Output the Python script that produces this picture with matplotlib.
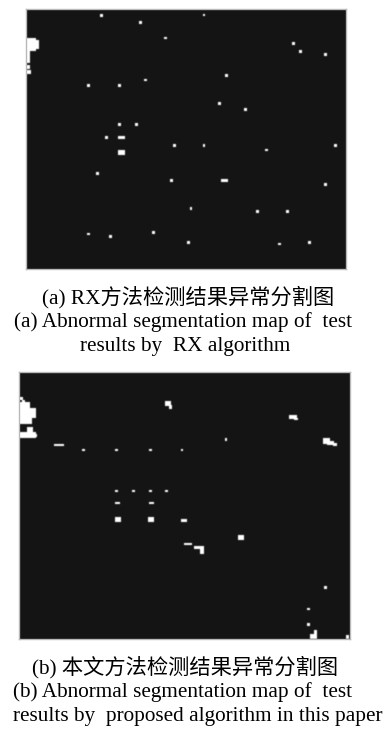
import numpy as np
import matplotlib
matplotlib.use("Agg")
import matplotlib.pyplot as plt

# Detection maps, in map pixels: each anomaly region is a list of
# (x0, y0, width, height) blocks that are flagged as abnormal.
rx_size = (260, 320)  # rows, cols
rx_regions = [
    [(0, 29, 10, 13), (10, 31, 3, 9), (0, 42, 4, 12), (0, 56, 4, 4), (0, 61, 5, 4)],
    [(74, 5, 3, 3)], [(113, 12, 3, 3)], [(177, 5, 2, 2)], [(138, 28, 3, 2)],
    [(266, 33, 3, 3)], [(273, 41, 3, 3)], [(298, 44, 3, 3)], [(199, 65, 3, 3)],
    [(118, 70, 3, 2)], [(61, 75, 3, 3)], [(92, 75, 3, 3)], [(192, 93, 3, 3)],
    [(218, 99, 3, 3)], [(92, 114, 3, 3)], [(109, 114, 3, 3)], [(79, 127, 3, 3)],
    [(92, 127, 7, 3)], [(92, 141, 7, 5)], [(147, 135, 3, 3)], [(177, 135, 2, 3)],
    [(239, 140, 3, 2)], [(308, 135, 3, 3)], [(70, 163, 3, 3)], [(144, 170, 3, 3)],
    [(195, 170, 7, 3)], [(298, 174, 3, 3)], [(164, 198, 2, 3)], [(230, 201, 3, 3)],
    [(260, 201, 3, 3)], [(61, 224, 3, 2)], [(83, 226, 3, 3)], [(126, 222, 3, 3)],
    [(161, 232, 3, 3)], [(252, 234, 3, 2)], [(282, 232, 3, 3)],
]

ours_size = (267, 331)
ours_regions = [
    [(0, 25, 4, 3), (0, 30, 11, 6), (0, 36, 17, 10), (0, 46, 13, 6), (3, 28, 3, 2)],
    [(8, 55, 6, 5), (0, 60, 17, 6), (14, 62, 4, 3)],
    [(146, 29, 6, 5), (150, 33, 3, 4)],
    [(270, 43, 8, 4), (275, 46, 4, 2)],
    [(206, 66, 2, 3)],
    [(304, 66, 7, 6), (308, 69, 7, 4), (314, 71, 4, 3)],
    [(35, 72, 10, 2)], [(63, 77, 3, 2)], [(96, 77, 3, 2)], [(130, 77, 3, 2)],
    [(162, 77, 2, 2)], [(96, 118, 3, 2)], [(113, 118, 3, 2)], [(130, 118, 3, 2)],
    [(146, 118, 3, 2)], [(96, 130, 5, 2)], [(130, 130, 5, 2)], [(96, 145, 6, 5)],
    [(129, 145, 6, 5)], [(162, 147, 6, 3)], [(219, 163, 6, 5)], [(165, 171, 8, 2)],
    [(175, 174, 9, 3), (181, 174, 4, 8)],
    [(305, 214, 3, 3)], [(288, 236, 3, 2)], [(288, 251, 3, 3)],
    [(295, 258, 3, 9), (291, 262, 5, 5)], [(327, 263, 3, 4)],
]

caption_a_cn = "(a) RX方法检测结果异常分割图"
caption_a_en = ["(a) Abnormal segmentation map of  test", "results by  RX algorithm"]
caption_b_cn = "(b) 本文方法检测结果异常分割图"
caption_b_en = ["(b) Abnormal segmentation map of  test",
                "results by  proposed algorithm in this paper"]

W, H = 392, 738
BG = 0.08


def render(size, regions):
    img = np.full(size, BG)
    for region in regions:
        for x0, y0, w, h in region:
            img[y0:y0 + h, x0:x0 + w] = 1.0
    # light smoothing, like a resampled raster
    k = np.array([0.2, 0.6, 0.2])
    img = np.apply_along_axis(lambda r: np.convolve(r, k, mode="same"), 1, img)
    img = np.apply_along_axis(lambda c: np.convolve(c, k, mode="same"), 0, img)
    return np.clip(img, 0, 1)


def add_map(x, y, size, regions):
    h, w = size
    ax = fig.add_axes([x / W, 1 - (y + h) / H, w / W, h / H])
    ax.imshow(render(size, regions), cmap="gray", vmin=0, vmax=1,
              interpolation="nearest", aspect="auto")
    ax.set_xticks([])
    ax.set_yticks([])
    for s in ax.spines.values():
        s.set_color("#b8b8b8")
        s.set_linewidth(1.0)
    return ax


fig = plt.figure(figsize=(W / 100, H / 100), dpi=100)
fig.patch.set_facecolor("white")

add_map(25.5, 9, rx_size, rx_regions)
add_map(19, 372, ours_size, ours_regions)

fam = ["Liberation Serif", "Noto Sans CJK SC"]
fs = 15.3
col = "black"


def put(x, y, s, ha="center", va="baseline"):
    fig.text(x / W, 1 - y / H, s, ha=ha, va=va, family=fam, fontsize=fs, color=col)


put(188, 297.5, caption_a_cn, va="center")
put(183, 326.5, caption_a_en[0])
put(185.5, 351.5, caption_a_en[1])
put(32, 667, caption_b_cn, ha="left", va="center")
put(13, 697, caption_b_en[0], ha="left")
put(13, 721, caption_b_en[1], ha="left")

fig.savefig("out.png", dpi=100)
